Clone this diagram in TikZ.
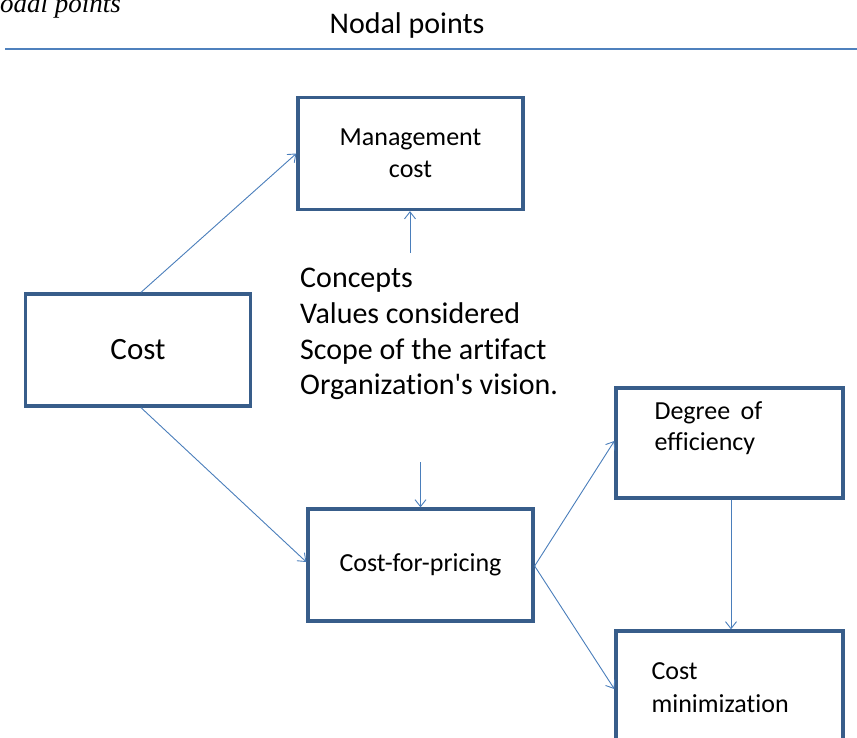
\documentclass[tikz,border=0pt]{standalone}
\usepackage{fontspec}
\setmainfont{Carlito}[Ligatures={NoCommon}]
\newfontfamily\capfont{Liberation Serif}
\usetikzlibrary{arrows.meta, positioning}

\definecolor{boxblue}{RGB}{56,93,138}
\definecolor{arrowblue}{RGB}{74,126,187}
\definecolor{ruleblue}{RGB}{79,129,189}

\begin{document}
\begin{tikzpicture}[
    x=1pt, y=-1pt,
    >={Straight Barb[length=7pt,width=11pt]},
    pointbox/.style={draw=boxblue, line width=3.3pt, fill=white,
                     minimum width=225pt, minimum height=112pt,
                     inner sep=0pt, align=center},
    boxtext/.style={font=\fontsize{26}{32}\selectfont, align=center},
    boxtextleft/.style={font=\fontsize{26}{31}\selectfont, align=left,
                        inner sep=0pt},
    bigtext/.style={font=\fontsize{30}{35.7}\selectfont, align=left,
                    inner sep=0pt},
    link/.style={->, draw=arrowblue, line width=0.9pt},
]
\useasboundingbox (0,0) rectangle (857,738);
\clip (0,0) rectangle (857,738);

% ---------------- Heading ----------------------------------------------
\node[font=\capfont\itshape\fontsize{27}{30}\selectfont,
      anchor=base east, inner sep=0pt]            (caption) at (121,13)
    {Nodal points};
\node[font=\fontsize{30}{34}\selectfont]         (title)   at (407,26)
    {Nodal points};
\coordinate (ruleL) at (5,49);
\coordinate (ruleR) at (857,49);
\draw[ruleblue, line width=1.2pt] (ruleL) -- (ruleR);

% ---------------- Boxes -------------------------------------------------
\node[pointbox, boxtext]                         (mgmt)    at (410.5,153.5)
    {Management\\cost};
\node[pointbox, boxtext, font=\fontsize{31}{34}\selectfont]
                                                 (cost)    at (138,350)
    {Cost};
\node[pointbox, boxtext]                         (pricing) at (420.5,565)
    {Cost-for-pricing};
\node[pointbox, minimum width=227pt, minimum height=110pt]
                                                 (deg)     at (729.5,443) {};
\node[pointbox, minimum width=227pt]             (costmin) at (729.5,687) {};

% Text of the two right boxes sits in the upper left corner.
\node[boxtextleft, anchor=north west]
    at ([xshift=40pt, yshift=-15pt]deg.north west)     (degtext)
    {Degree \,of\\efficiency};
\node[boxtextleft, anchor=north west, font=\fontsize{26}{33}\selectfont]
    at ([xshift=37pt, yshift=-33pt]costmin.north west) (mintext)
    {Cost\\minimization};

% ---------------- Central list ------------------------------------------
\node[bigtext, anchor=north west]                (list)    at (300,268)
    {Concepts\\Values considered\\Scope of the artifact\\%
     Organization\textquotesingle s vision.};

\coordinate (upstart)   at (410,253);
\coordinate (downstart) at (420.5,462);

% ---------------- Connectors --------------------------------------------
\draw[link] ([xshift=3pt]cost.north) -- (mgmt.west);
\draw[link] ([xshift=3pt]cost.south) -- ([yshift=3pt]pricing.west);
\draw[link] (upstart) -- (mgmt.south -| upstart);
\draw[link] (downstart) -- (pricing.north);
\draw[link] ([yshift=-1pt]pricing.east) -- ([yshift=2pt]deg.west);
\draw[link] ([yshift=-1pt]pricing.east) -- ([yshift=-2pt]costmin.west);
\draw[link] ([xshift=1.5pt]deg.south) -- ([xshift=1.5pt]costmin.north);

\end{tikzpicture}
\end{document}
